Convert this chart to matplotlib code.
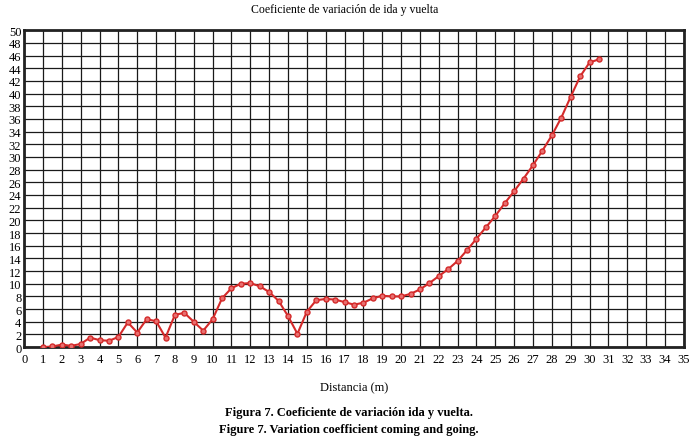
import matplotlib.pyplot as plt
import numpy as np

# Coeficiente de variación ida y vuelta
distancia = [1, 1.5, 2, 2.5, 3, 3.5, 4, 4.5, 5, 5.5, 6, 6.5, 7, 7.5, 8, 8.5,
             9, 9.5, 10, 10.5, 11, 11.5, 12, 12.5, 13, 13.5, 14, 14.5, 15,
             15.5, 16, 16.5, 17, 17.5, 18, 18.5, 19, 19.5, 20, 20.5, 21, 21.5,
             22, 22.5, 23, 23.5, 24, 24.5, 25, 25.5, 26, 26.5, 27, 27.5, 28,
             28.5, 29, 29.5, 30, 30.5]
coef_var = [0.0, 0.1, 0.4, 0.2, 0.5, 1.5, 1.1, 1.0, 1.6, 3.9, 2.3, 4.4, 4.1,
            1.5, 5.1, 5.4, 4.0, 2.6, 4.4, 7.7, 9.3, 10.0, 10.1, 9.6, 8.7, 7.3,
            4.9, 2.1, 5.6, 7.4, 7.6, 7.5, 7.1, 6.7, 7.0, 7.7, 8.1, 8.0, 8.0,
            8.4, 9.1, 10.1, 11.2, 12.3, 13.6, 15.3, 17.1, 18.9, 20.7, 22.7,
            24.6, 26.6, 28.7, 31.0, 33.4, 36.2, 39.5, 42.7, 44.9, 45.4]

plt.rcParams['font.family'] = ['Liberation Serif', 'DejaVu Serif']

fig = plt.figure(figsize=(6.9, 4.39), dpi=100)
ax = fig.add_axes([0.035, 0.207, 0.956, 0.722])

ax.plot(distancia, coef_var, color='#d42a2a', lw=1.5, marker='o', ms=3.6,
        mfc='#e87070', mec='#d42a2a', mew=1.0, zorder=3)

ax.set_xlim(0, 35)
ax.set_ylim(0, 50)
ax.set_xticks(np.arange(0, 36, 1))
ax.set_yticks(np.arange(0, 51, 2))
ax.grid(True, color='#1a1a1a', lw=0.9)
ax.tick_params(length=0, labelsize=9, pad=4)
ax.tick_params(axis='y', pad=2)
for s in ax.spines.values():
    s.set_linewidth(2)
    s.set_color('#222222')

ax.set_xlabel('Distancia (m)', fontsize=9, labelpad=12)
fig.text(0.5, 0.99, 'Coeficiente de variación de ida y vuelta', ha='center',
         va='top', fontsize=8.5)
fig.text(0.505, 0.06, 'Figura 7. Coeficiente de variación ida y vuelta.',
         ha='center', va='center', fontsize=9, fontweight='bold')
fig.text(0.505, 0.02, 'Figure 7. Variation coefficient coming and going.',
         ha='center', va='center', fontsize=9, fontweight='bold')

fig.savefig('out.png', dpi=100, facecolor='white')
